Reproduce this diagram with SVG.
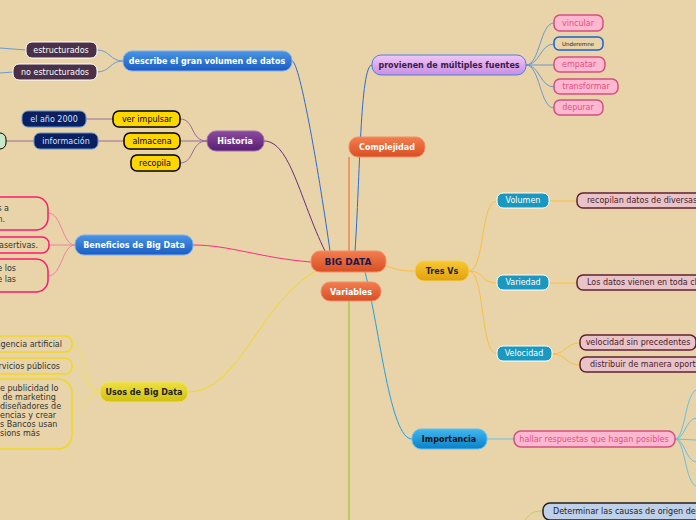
<svg xmlns="http://www.w3.org/2000/svg" width="696" height="520" viewBox="0 0 696 520">
<defs>
<linearGradient id="gBlue" x1="0" y1="0" x2="0" y2="1"><stop offset="0" stop-color="#4a95e6"/><stop offset="1" stop-color="#1a5cc0"/></linearGradient>
<linearGradient id="gOr" x1="0" y1="0" x2="0" y2="1"><stop offset="0" stop-color="#f47d4e"/><stop offset="1" stop-color="#d84f23"/></linearGradient>
<linearGradient id="gPur" x1="0" y1="0" x2="0" y2="1"><stop offset="0" stop-color="#8a4aa0"/><stop offset="1" stop-color="#5a1f70"/></linearGradient>
<linearGradient id="gLil" x1="0" y1="0" x2="0" y2="1"><stop offset="0" stop-color="#f0c8f8"/><stop offset="1" stop-color="#c98ee0"/></linearGradient>
<linearGradient id="gYel" x1="0" y1="0" x2="0" y2="1"><stop offset="0" stop-color="#f8c830"/><stop offset="1" stop-color="#e0a010"/></linearGradient>
<linearGradient id="gYel2" x1="0" y1="0" x2="0" y2="1"><stop offset="0" stop-color="#f0e040"/><stop offset="1" stop-color="#d0c010"/></linearGradient>
<linearGradient id="gCy" x1="0" y1="0" x2="0" y2="1"><stop offset="0" stop-color="#40b8f0"/><stop offset="1" stop-color="#0a80c8"/></linearGradient>
</defs>
<style>
text{font-family:Verdana,"DejaVu Sans",sans-serif;font-size:8px;text-anchor:middle;dominant-baseline:central}
.b{font-weight:bold}
.w{fill:#fff}
.c path{fill:none;stroke-width:1}
</style>
<rect width="696" height="520" fill="#e8d4a8"/>
<g class="c">
<path d="M330 251 C320 180 300 61 292 61" stroke="#2b6cd0" stroke-width="1.5"/>
<path d="M325 251 C300 200 290 141 264 141" stroke="#6a2a80" stroke-width="1.5"/>
<path d="M311 262 C260 258 230 245 193 245" stroke="#ff2a80" stroke-width="1.5"/>
<path d="M318 270 C260 300 240 392 188 392" stroke="#f0d820" stroke-width="1.5"/>
<path d="M355 251 C360 180 360 65 372 65" stroke="#2b6cd0" stroke-width="1.5"/>
<path d="M349 251 L349 157" stroke="#f06020" stroke-width="1.5"/>
<path d="M386 266 C400 271 405 271 415 271" stroke="#f8c040" stroke-width="1"/>
<path d="M365 272 C380 330 390 439 412 439" stroke="#20a0e0" stroke-width="1.5"/>
<path d="M349 301 L349 520" stroke="#90c020" stroke-width="1.5"/>
<path d="M123 61 C110 61 110 50 97 50" stroke="#6a9ad0"/>
<path d="M123 61 C110 61 110 72 97 72" stroke="#6a9ad0"/>
<path d="M26 50 L0 48" stroke="#6a9ad0"/><path d="M13 72 L0 73" stroke="#6a9ad0"/>
<path d="M207 141 C190 141 195 119 180 119" stroke="#9a6a9a"/>
<path d="M207 141 L180 141" stroke="#9a6a9a"/>
<path d="M207 141 C190 141 195 163 180 163" stroke="#9a6a9a"/>
<path d="M113 119 L86 119" stroke="#9a6a9a"/><path d="M124 141 L98 141" stroke="#9a6a9a"/><path d="M34 141 L6 141" stroke="#9a6a9a"/>
<path d="M75 245 C62 245 62 213 48 213" stroke="#f080a0"/>
<path d="M75 245 L49 245" stroke="#f080a0"/>
<path d="M75 245 C62 245 62 276 48 276" stroke="#f080a0"/>
<path d="M100 392 C85 392 85 344 72 344" stroke="#f0e060"/>
<path d="M100 392 C85 392 85 366 72 366" stroke="#f0e060"/>
<path d="M100 392 C85 392 85 414 72 414" stroke="#f0e060"/>
<path d="M526 65 C540 65 540 23 554 23" stroke="#6a9ad0"/>
<path d="M526 65 C540 65 540 44 554 44" stroke="#6a9ad0"/>
<path d="M526 65 L554 65" stroke="#6a9ad0"/>
<path d="M526 65 C540 65 540 87 554 87" stroke="#6a9ad0"/>
<path d="M526 65 C540 65 540 108 554 108" stroke="#6a9ad0"/>
<path d="M469 271 C485 271 480 201 497 201" stroke="#f8c040"/>
<path d="M469 271 C485 271 480 283 497 283" stroke="#f8c040"/>
<path d="M469 271 C485 271 480 354 497 354" stroke="#f8c040"/>
<path d="M549 201 L577 201" stroke="#f8c040"/><path d="M549 283 L577 283" stroke="#f8c040"/>
<path d="M552 354 C566 354 566 343 580 343" stroke="#f8c040"/>
<path d="M552 354 C566 354 566 365 580 365" stroke="#f8c040"/>
<path d="M487 439 L514 439" stroke="#6ac0e0"/>
<path d="M675 439 C685 439 685 395 696 390" stroke="#6ac0e0"/>
<path d="M675 439 C685 439 685 420 696 418" stroke="#6ac0e0"/>
<path d="M675 439 L696 440" stroke="#6ac0e0"/>
<path d="M675 439 C685 439 685 460 696 462" stroke="#6ac0e0"/>
<path d="M675 439 C685 439 685 482 696 486" stroke="#6ac0e0"/>
<path d="M543 511 C530 511 530 515 525 520" stroke="#c0d060"/>
</g>
<g id="bigdata"><rect x="311" y="251" width="75" height="21" rx="9" fill="url(#gOr)" stroke="#f09070"/><text x="348" y="262" class="b" style="font-size:9px" fill="#1a1a4a">BIG DATA</text></g>
<g id="complejidad"><rect x="349" y="137" width="76" height="20" rx="9" fill="url(#gOr)" stroke="#f09070"/><text x="387" y="147" class="b w">Complejidad</text></g>
<g id="variables"><rect x="321" y="282" width="60" height="19" rx="9" fill="url(#gOr)" stroke="#f09070"/><text x="351" y="292" class="b w">Variables</text></g>
<g id="describe"><rect x="123" y="51" width="169" height="20" rx="9" fill="url(#gBlue)" stroke="#80b0f0"/><text x="207" y="61" class="b w">describe el gran volumen de datos</text></g>
<g id="estructurados"><rect x="26" y="42" width="71" height="16" rx="6" fill="#4a3048" stroke="#fff"/><text x="61" y="50" class="w">estructurados</text></g>
<g id="noestructurados"><rect x="13" y="64" width="84" height="16" rx="6" fill="#4a3048" stroke="#fff"/><text x="55" y="72" class="w">no estructurados</text></g>
<g id="historia"><rect x="207" y="131" width="57" height="20" rx="9" fill="url(#gPur)" stroke="#a070b0"/><text x="235" y="141" class="b w">Historia</text></g>
<g id="verimpulsar"><rect x="113" y="111" width="67" height="16" rx="6" fill="#ffd700" stroke="#000" stroke-width="1.5"/><text x="147" y="119">ver impulsar</text></g>
<g id="almacena"><rect x="124" y="133" width="56" height="16" rx="6" fill="#ffd700" stroke="#000" stroke-width="1.5"/><text x="152" y="141">almacena</text></g>
<g id="recopila"><rect x="131" y="155" width="49" height="16" rx="6" fill="#ffd700" stroke="#000" stroke-width="1.5"/><text x="155" y="163">recopila</text></g>
<g id="ano2000"><rect x="22" y="111" width="64" height="16" rx="6" fill="#0a2060" stroke="#6090d0"/><text x="54" y="119" fill="#d0e0ff">el año 2000</text></g>
<g id="informacion"><rect x="34" y="133" width="64" height="16" rx="6" fill="#0a2060" stroke="#6090d0"/><text x="66" y="141" fill="#d0e0ff">información</text></g>
<g id="green"><rect x="-10" y="133" width="16" height="16" rx="6" fill="#c8e8c8" stroke="#000"/></g>
<g id="beneficios"><rect x="75" y="235" width="118" height="20" rx="9" fill="url(#gBlue)" stroke="#80b0f0"/><text x="134" y="245" class="b w">Beneficios de Big Data</text></g>
<g id="ben1"><rect x="-20" y="197" width="68" height="33" rx="12" fill="none" stroke="#ff1a70" stroke-width="1.5"/><text x="6" y="213" style="text-anchor:end" fill="#333"><tspan x="9" dy="-5">s a</tspan><tspan x="5" dy="11">n.</tspan></text></g>
<g id="ben2"><rect x="-20" y="237" width="69" height="16" rx="7" fill="none" stroke="#ff1a70" stroke-width="1.5"/><text x="38" y="245" style="text-anchor:end" fill="#333">asertivas.</text></g>
<g id="ben3"><rect x="-20" y="259" width="68" height="33" rx="12" fill="none" stroke="#ff1a70" stroke-width="1.5"/><text fill="#333" style="text-anchor:end"><tspan x="16" y="268">e los</tspan><tspan x="16" y="279">e las</tspan></text></g>
<g id="usos"><rect x="100" y="382" width="88" height="20" rx="9" fill="url(#gYel2)" stroke="#f0e070"/><text x="144" y="392" class="b" fill="#222">Usos de Big Data</text></g>
<g id="uso1"><rect x="-20" y="336" width="92" height="16" rx="7" fill="none" stroke="#f0d820" stroke-width="1.5"/><text x="62" y="344" style="text-anchor:end" fill="#333">eligencia artificial</text></g>
<g id="uso2"><rect x="-20" y="358" width="92" height="16" rx="7" fill="none" stroke="#f0d820" stroke-width="1.5"/><text x="60" y="366" style="text-anchor:end" fill="#333">ervicios públicos</text></g>
<g id="uso3"><rect x="-20" y="379" width="92" height="70" rx="14" fill="none" stroke="#f0d820" stroke-width="1.5"/><text fill="#333" style="text-anchor:start"><tspan x="0" y="388">e publicidad lo</tspan><tspan x="0" y="397"> de marketing</tspan><tspan x="0" y="406">diseñadores de</tspan><tspan x="0" y="415">encias y crear</tspan><tspan x="0" y="424">s Bancos usan</tspan><tspan x="0" y="433">sions más</tspan></text></g>
<g id="provienen"><rect x="372" y="55" width="154" height="20" rx="9" fill="url(#gLil)" stroke="#4a80e0"/><text x="449" y="65" class="b" fill="#3a1a4a">provienen de múltiples fuentes</text></g>
<g id="vincular"><rect x="554" y="15" width="49" height="16" rx="6" fill="#ffb8d0" stroke="#d05080" stroke-width="1.5"/><text x="578" y="23" fill="#e05080">vincular</text></g>
<g id="underemne"><rect x="554" y="37" width="49" height="13" rx="5" fill="none" stroke="#1a60d0" stroke-width="1.5"/><text x="578" y="43.5" style="font-size:5.5px" fill="#222">Underemne</text></g>
<g id="empatar"><rect x="554" y="57" width="51" height="15" rx="6" fill="#ffb8d0" stroke="#d05080" stroke-width="1.5"/><text x="579" y="64.5" fill="#e05080">empatar</text></g>
<g id="transformar"><rect x="554" y="79" width="64" height="15" rx="6" fill="#ffb8d0" stroke="#d05080" stroke-width="1.5"/><text x="586" y="86.5" fill="#e05080">transformar</text></g>
<g id="depurar"><rect x="554" y="100" width="49" height="15" rx="6" fill="#ffb8d0" stroke="#d05080" stroke-width="1.5"/><text x="578" y="107.5" fill="#e05080">depurar</text></g>
<g id="tresvs"><rect x="415" y="261" width="54" height="20" rx="9" fill="url(#gYel)" stroke="#f8d060"/><text x="442" y="271" class="b" fill="#222">Tres Vs</text></g>
<g id="volumen"><rect x="497" y="193" width="52" height="15" rx="6" fill="#1a98c0" stroke="#fff"/><text x="523" y="200.5" class="w">Volumen</text></g>
<g id="variedad"><rect x="497" y="275" width="52" height="15" rx="6" fill="#1a98c0" stroke="#fff"/><text x="523" y="282.5" class="w">Variedad</text></g>
<g id="velocidad"><rect x="497" y="346" width="55" height="15" rx="6" fill="#1a98c0" stroke="#fff"/><text x="524" y="353.5" class="w">Velocidad</text></g>
<g id="recopilan"><rect x="577" y="193" width="130" height="15" rx="6" fill="#e8c4c8" stroke="#602030" stroke-width="1.5"/><text x="587" y="200.5" style="text-anchor:start" fill="#4a1a2a">recopilan datos de diversas fuentes</text></g>
<g id="losdatos"><rect x="577" y="275" width="130" height="15" rx="6" fill="#e8c4c8" stroke="#602030" stroke-width="1.5"/><text x="587" y="282.5" style="text-anchor:start" fill="#4a1a2a">Los datos vienen en toda clase</text></g>
<g id="velsin"><rect x="580" y="335" width="116" height="15" rx="6" fill="#e8c4c8" stroke="#602030" stroke-width="1.5"/><text x="638" y="342.5" fill="#4a1a2a">velocidad sin precedentes</text></g>
<g id="distribuir"><rect x="580" y="357" width="130" height="15" rx="6" fill="#e8c4c8" stroke="#602030" stroke-width="1.5"/><text x="590" y="364.5" style="text-anchor:start" fill="#4a1a2a">distribuir de manera oportuna</text></g>
<g id="importancia"><rect x="412" y="429" width="75" height="20" rx="9" fill="url(#gCy)" stroke="#60c0f0"/><text x="449" y="439" class="b" fill="#111">Importancia</text></g>
<g id="hallar"><rect x="514" y="431" width="161" height="16" rx="7" fill="#ffb8d0" stroke="#d05080" stroke-width="1.5"/><text x="594" y="439" fill="#e05080">hallar respuestas que hagan posibles</text></g>
<g id="determinar"><rect x="543" y="503" width="160" height="17" rx="7" fill="#c0d0e8" stroke="#222" stroke-width="1.5"/><text x="553" y="511.5" style="text-anchor:start" fill="#222">Determinar las causas de origen de fallas</text></g>
</svg>
